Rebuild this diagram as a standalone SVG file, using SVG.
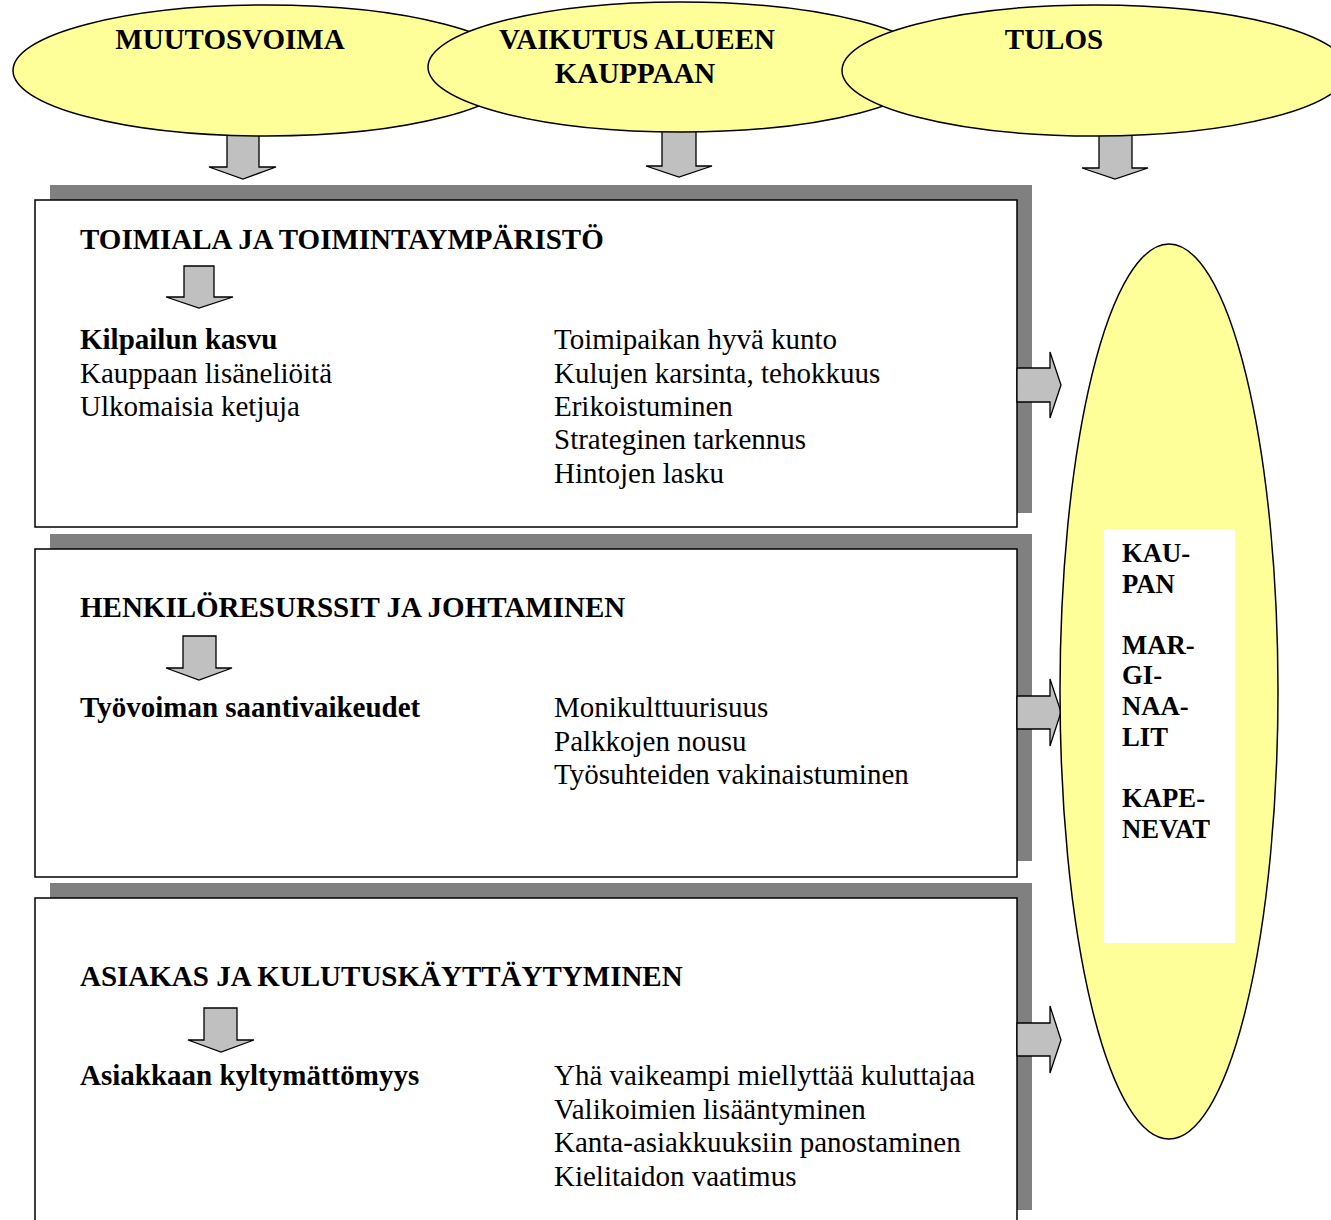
<svg xmlns="http://www.w3.org/2000/svg" width="1331" height="1220" viewBox="0 0 1331 1220">
<style>
.ell{fill:#FFFF99;stroke:#000;stroke-width:1.5}
.shadow{fill:#808080}
.box{fill:#fff;stroke:#000;stroke-width:1.5}
.arr{fill:#C0C0C0;stroke:#000;stroke-width:1.3;stroke-linejoin:miter}
.h{font-family:"Liberation Serif","Times New Roman",serif;font-weight:bold;font-size:29px;fill:#000}
.t{font-family:"Liberation Serif","Times New Roman",serif;font-size:29px;fill:#000}
.r{font-family:"Liberation Serif","Times New Roman",serif;font-weight:bold;font-size:26.7px;fill:#000}
</style>
<rect width="1331" height="1220" fill="#fff"/>
<g id="connectors">
<polygon class="arr" points="227,128 259,128 259,167 276,167 243,179 209,167 227,167"/>
<polygon class="arr" points="662,126 696,126 696,166 712,166 679,177 646,166 662,166"/>
<polygon class="arr" points="1099,128 1132,128 1132,168 1148,168 1115,179 1082,168 1099,168"/>
</g>
<g id="head-muutosvoima">
<ellipse class="ell" cx="266" cy="70.5" rx="253" ry="65.5"/>
<text class="h" x="230" y="49" text-anchor="middle">MUUTOSVOIMA</text>
</g>
<g id="head-vaikutus">
<ellipse class="ell" cx="681" cy="67" rx="253" ry="65"/>
<text class="h" x="637" y="49" text-anchor="middle">VAIKUTUS ALUEEN</text>
<text class="h" x="635" y="82.5" text-anchor="middle">KAUPPAAN</text>
</g>
<g id="head-tulos">
<ellipse class="ell" cx="1095" cy="70.5" rx="253" ry="65.5"/>
<text class="h" x="1054" y="49" text-anchor="middle">TULOS</text>
</g>
<g id="box-toimiala">
<rect class="shadow" x="50" y="185" width="982" height="328"/>
<rect class="box" x="35" y="200" width="982" height="327"/>
<text class="h" x="80" y="249">TOIMIALA JA TOIMINTAYMPÄRISTÖ</text>
<polygon class="arr" points="184,266 214,266 214,297 233,297 199,308 166,297 184,297"/>
<text class="h" x="80" y="349">Kilpailun kasvu</text>
<text class="t" x="80" y="382.5">Kauppaan lisäneliöitä</text>
<text class="t" x="80" y="416">Ulkomaisia ketjuja</text>
<text class="t" x="554" y="349">Toimipaikan hyvä kunto</text>
<text class="t" x="554" y="382.5">Kulujen karsinta, tehokkuus</text>
<text class="t" x="554" y="416">Erikoistuminen</text>
<text class="t" x="554" y="449">Strateginen tarkennus</text>
<text class="t" x="554" y="482.5">Hintojen lasku</text>
</g>
<g id="box-henkilo">
<rect class="shadow" x="50" y="534" width="982" height="327"/>
<rect class="box" x="35" y="549" width="982" height="328"/>
<text class="h" x="80" y="617">HENKILÖRESURSSIT JA JOHTAMINEN</text>
<polygon class="arr" points="183,636 216,636 216,668 232,668 199,680 166,668 183,668"/>
<text class="h" x="80" y="717">Työvoiman saantivaikeudet</text>
<text class="t" x="554" y="717">Monikulttuurisuus</text>
<text class="t" x="554" y="750.5">Palkkojen nousu</text>
<text class="t" x="554" y="784">Työsuhteiden vakinaistuminen</text>
</g>
<g id="box-asiakas">
<rect class="shadow" x="50" y="883" width="982" height="327"/>
<rect class="box" x="35" y="898" width="982" height="342"/>
<text class="h" x="80" y="986">ASIAKAS JA KULUTUSKÄYTTÄYTYMINEN</text>
<polygon class="arr" points="204,1008 237,1008 237,1040 254,1040 221,1052 188,1040 204,1040"/>
<text class="h" x="80" y="1085">Asiakkaan kyltymättömyys</text>
<text class="t" x="554" y="1085">Yhä vaikeampi miellyttää kuluttajaa</text>
<text class="t" x="554" y="1118.5">Valikoimien lisääntyminen</text>
<text class="t" x="554" y="1152">Kanta-asiakkuuksiin panostaminen</text>
<text class="t" x="554" y="1185.5">Kielitaidon vaatimus</text>
</g>
<g id="connectors-right">
<polygon class="arr" points="1017,368 1050,368 1050,352 1061,385 1050,418 1050,402 1017,402"/>
<polygon class="arr" points="1017,696 1050,696 1050,679 1061,712 1050,746 1050,729 1017,729"/>
<polygon class="arr" points="1017,1023 1050,1023 1050,1006 1061,1040 1050,1073 1050,1056 1017,1056"/>
</g>
<g id="result">
<ellipse class="ell" cx="1169" cy="691.5" rx="109" ry="447.5"/>
<rect x="1104" y="529" width="131" height="414" fill="#fff"/>
<text class="r" x="1122" y="562">KAU-</text>
<text class="r" x="1122" y="592.5">PAN</text>
<text class="r" x="1122" y="653.5">MAR-</text>
<text class="r" x="1122" y="684">GI-</text>
<text class="r" x="1122" y="715">NAA-</text>
<text class="r" x="1122" y="746">LIT</text>
<text class="r" x="1122" y="807">KAPE-</text>
<text class="r" x="1122" y="838">NEVAT</text>
</g>
</svg>
